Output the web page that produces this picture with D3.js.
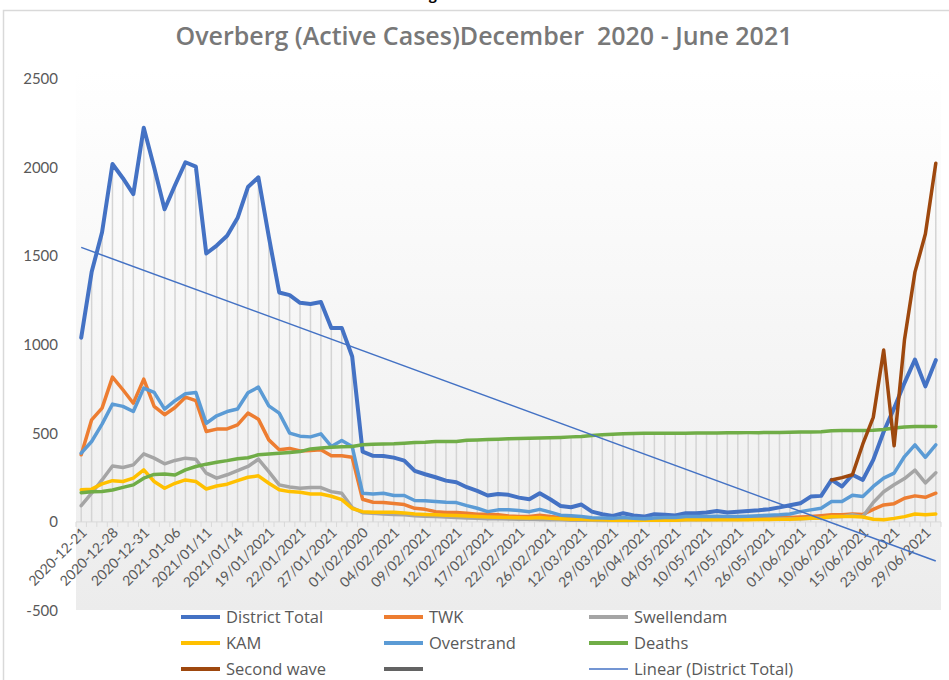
<!DOCTYPE html>
<html>
<head>
<meta charset="utf-8">
<script src="https://cdn.jsdelivr.net/npm/d3@7"></script>
<style>
  body { margin: 0; background: #fff; }
  svg { display: block; }
  text { font-family: Lato, "Open Sans", sans-serif; }
  .os { font-family: "Open Sans", Lato, sans-serif; }
</style>
</head>
<body>
<svg id="chart" width="949" height="680"></svg>
<script>
// ---------- DATA ----------
const categories = d3.range(83); // 83 reporting dates (only every third is labelled)

const tickLabels = ["2020-12-21","2020-12-28","2020-12-31","2021-01-06","2021/01/11","2021/01/14",
  "19/01/2021","22/01/2021","27/01/2021","01/02/2020","04/02/2021","09/02/2021","12/02/2021",
  "17/02/2021","22/02/2021","26/02/2021","12/03/2021","29/03/2021","26/04/2021","04/05/2021",
  "10/05/2021","17/05/2021","26/05/2021","01/06/2021","10/06/2021","15/06/2021","23/06/2021","29/06/2021"];

const districtTotal = [1040,1410,1635,2020,1940,1850,2225,2000,1765,1900,2030,2005,1515,1560,1615,1715,1890,1945,1610,1295,
  1280,1237,1230,1241,1095,1095,934,397,373,372,363,346,288,269,252,233,224,196,175,149,
  158,153,137,128,162,128,90,83,98,58,43,34,49,36,30,43,41,36,49,49,
  53,62,53,58,62,66,72,82,94,105,143,147,237,200,266,237,350,509,642,785,917,765,913];

const twk = [379,576,642,817,746,670,806,652,605,646,704,685,510,524,525,548,614,580,463,407,
  415,400,403,408,373,373,365,128,111,109,104,98,77,71,58,53,53,49,43,43,
  40,34,30,30,38,30,25,22,25,19,18,15,20,15,15,15,18,18,18,20,
  20,20,20,20,20,22,22,25,25,28,30,35,40,40,45,42,71,96,103,134,147,139,162];

const swellendam = [92,162,237,316,307,322,384,360,328,347,360,354,275,247,266,290,313,354,284,209,
  197,190,194,194,171,162,81,52,49,45,42,40,35,32,30,28,25,22,20,18,
  18,16,15,15,14,12,12,10,10,10,8,8,8,8,10,10,10,10,12,12,
  12,14,14,14,15,15,16,16,18,18,20,22,28,30,40,30,110,170,210,245,292,220,277];

const kam = [181,185,215,233,228,247,294,228,190,218,237,228,186,203,213,233,252,260,218,181,
  171,168,158,158,145,126,76,58,55,55,55,51,45,42,40,38,36,33,30,28,
  27,25,24,22,25,20,18,15,15,12,12,10,10,10,10,10,10,10,12,12,
  12,12,12,12,12,14,14,15,15,18,20,22,30,30,30,28,15,12,20,30,45,40,45];

const overstrand = [388,454,552,665,652,623,755,731,637,684,723,731,557,599,623,637,729,761,655,614,
  501,484,480,497,426,459,426,162,158,162,149,149,121,119,115,111,109,92,77,58,
  68,68,64,58,71,55,38,35,30,24,22,20,25,20,18,22,25,25,30,30,
  30,32,30,30,32,35,38,40,45,58,68,77,115,115,151,143,200,247,275,369,435,365,435];

const deaths = [165,170,172,180,195,209,247,268,271,265,294,313,326,337,346,357,362,379,383,388,
  392,397,412,417,422,424,426,436,439,440,441,444,448,450,454,454,454,461,463,465,
  467,469,471,472,473,475,477,480,482,488,492,495,497,499,500,500,501,501,501,502,
  502,502,503,503,504,504,505,505,506,507,508,509,515,516,516,516,518,522,530,536,538,539,539];

const secondWave = [null,null,null,null,null,null,null,null,null,null,null,null,null,null,null,null,null,null,null,null,
  null,null,null,null,null,null,null,null,null,null,null,null,null,null,null,null,null,null,null,null,
  null,null,null,null,null,null,null,null,null,null,null,null,null,null,null,null,null,null,null,null,
  null,null,null,null,null,null,null,null,null,null,null,null,237,250,266,440,590,970,430,1030,1410,1625,2025];

const unnamedSeries = []; // legend-only series (no values)

const yTicks = [-500,0,500,1000,1500,2000,2500];

const seriesList = [
  { name: "District Total", values: districtTotal, color: "#4472c4", width: 4 },
  { name: "TWK", values: twk, color: "#ed7d31", width: 3.5 },
  { name: "Swellendam", values: swellendam, color: "#a5a5a5", width: 3.5 },
  { name: "KAM", values: kam, color: "#ffc000", width: 3.5 },
  { name: "Overstrand", values: overstrand, color: "#5b9bd5", width: 3.5 },
  { name: "Deaths", values: deaths, color: "#70ad47", width: 3.5 },
  { name: "Second wave", values: secondWave, color: "#9e480e", width: 3.5 },
  { name: "", values: unnamedSeries, color: "#636363", width: 3.5 }
];

// ---------- LAYOUT ----------
const svg = d3.select("#chart");
const W = 949, H = 680;
const plot = { left: 76, right: 941, top: 70, bottom: 610 };

// chart border
svg.append("rect").attr("x", 3.5).attr("y", 10.5).attr("width", W + 10).attr("height", H + 10)
  .attr("fill", "#fff").attr("stroke", "#d9d9d9").attr("stroke-width", 1.5);

// heading above the chart, cropped by the top edge (only its descender shows)
svg.append("text").attr("x", 437).attr("y", -0.5).attr("text-anchor", "end")
  .attr("font-size", 16).attr("font-weight", "bold").attr("fill", "#000").text("Overberg");

// plot background gradient
const defs = svg.append("defs");
const grad = defs.append("linearGradient").attr("id", "bg").attr("x1", 0).attr("y1", 0).attr("x2", 0).attr("y2", 1);
grad.append("stop").attr("offset", "0%").attr("stop-color", "#ffffff");
grad.append("stop").attr("offset", "100%").attr("stop-color", "#ececec");
svg.append("rect").attr("x", plot.left).attr("y", plot.top)
  .attr("width", plot.right - plot.left).attr("height", plot.bottom - plot.top)
  .attr("fill", "url(#bg)");

const x = d3.scalePoint().domain(categories).range([plot.left, plot.right]).padding(0.5);
const y = d3.scaleLinear().domain([-500, 2500]).range([610.5, 79]);
const step = x.step();

// title
svg.append("text").attr("class", "os").attr("x", 484).attr("y", 45).attr("text-anchor", "middle")
  .attr("font-size", 25).attr("font-weight", 600).attr("fill", "#787878")
  .attr("xml:space", "preserve")
  .text("Overberg (Active Cases)December  2020 - June 2021");

// y axis labels
svg.append("g").selectAll("text").data(yTicks).join("text")
  .attr("x", 58).attr("y", d => y(d)).attr("dy", "0.35em").attr("text-anchor", "end")
  .attr("font-size", 15).attr("fill", "#595959").text(d => d);

// drop lines (from highest series value down to the category axis)
const maxAt = categories.map(i => d3.max(seriesList, s => s.values[i] == null ? undefined : s.values[i]));
svg.append("g").selectAll("line").data(categories).join("line")
  .attr("x1", i => x(i)).attr("x2", i => x(i))
  .attr("y1", i => y(maxAt[i])).attr("y2", y(0))
  .attr("stroke", "#d4d4d4").attr("stroke-width", 1.5);

// category axis line + ticks
svg.append("line").attr("x1", plot.left).attr("x2", plot.right).attr("y1", y(0)).attr("y2", y(0))
  .attr("stroke", "#d9d9d9").attr("stroke-width", 1);
svg.append("g").selectAll("line").data(d3.range(categories.length + 1)).join("line")
  .attr("x1", k => plot.left + k * step).attr("x2", k => plot.left + k * step)
  .attr("y1", y(0)).attr("y2", y(0) + 5)
  .attr("stroke", "#d9d9d9").attr("stroke-width", 1);

// x tick labels (every third category)
svg.append("g").selectAll("text").data(tickLabels).join("text")
  .attr("transform", (d, k) => `translate(${x(k * 3) + 3},${y(0) + 8}) rotate(-45)`)
  .attr("text-anchor", "end").attr("dy", "0.35em")
  .attr("font-size", 14).attr("fill", "#595959").text(d => d);

// series lines
const line = d3.line().defined(d => d.v != null).x(d => x(d.i)).y(d => y(d.v));
seriesList.forEach(s => {
  if (!s.values.length) return;
  svg.append("path").datum(s.values.map((v, i) => ({ i, v })))
    .attr("d", line).attr("fill", "none").attr("stroke", s.color)
    .attr("stroke-width", s.width).attr("stroke-linejoin", "round").attr("stroke-linecap", "round");
});

// linear trendline (least squares on District Total)
const n = districtTotal.length;
const mx = d3.mean(categories), my = d3.mean(districtTotal);
const slope = d3.sum(categories, i => (i - mx) * (districtTotal[i] - my)) / d3.sum(categories, i => (i - mx) ** 2);
const icpt = my - slope * mx;
svg.append("line")
  .attr("x1", x(0)).attr("y1", y(icpt))
  .attr("x2", x(n - 1)).attr("y2", y(icpt + slope * (n - 1)))
  .attr("stroke", "#4472c4").attr("stroke-width", 1.5);

// legend
const legendItems = [
  { name: "District Total", color: "#4472c4", w: 4, col: 0, row: 0 },
  { name: "TWK", color: "#ed7d31", w: 4, col: 1, row: 0 },
  { name: "Swellendam", color: "#a5a5a5", w: 4, col: 2, row: 0 },
  { name: "KAM", color: "#ffc000", w: 4, col: 0, row: 1 },
  { name: "Overstrand", color: "#5b9bd5", w: 4, col: 1, row: 1 },
  { name: "Deaths", color: "#70ad47", w: 4, col: 2, row: 1 },
  { name: "Second wave", color: "#9e480e", w: 4, col: 0, row: 2 },
  { name: "", color: "#636363", w: 4, col: 1, row: 2 },
  { name: "Linear (District Total)", color: "#4472c4", w: 1.5, col: 2, row: 2 }
];
const colX = [181, 384, 589], rowY = [617, 643, 669];
const lg = svg.append("g").selectAll("g").data(legendItems).join("g")
  .attr("transform", d => `translate(${colX[d.col]},${rowY[d.row]})`);
lg.append("line").attr("x1", 0).attr("x2", 39).attr("y1", 0).attr("y2", 0)
  .attr("stroke", d => d.color).attr("stroke-width", d => d.w);
lg.append("text").attr("class", "os").attr("x", 45).attr("dy", "0.35em").attr("font-size", 16.5)
  .attr("fill", "#595959").text(d => d.name);
</script>
</body>
</html>
